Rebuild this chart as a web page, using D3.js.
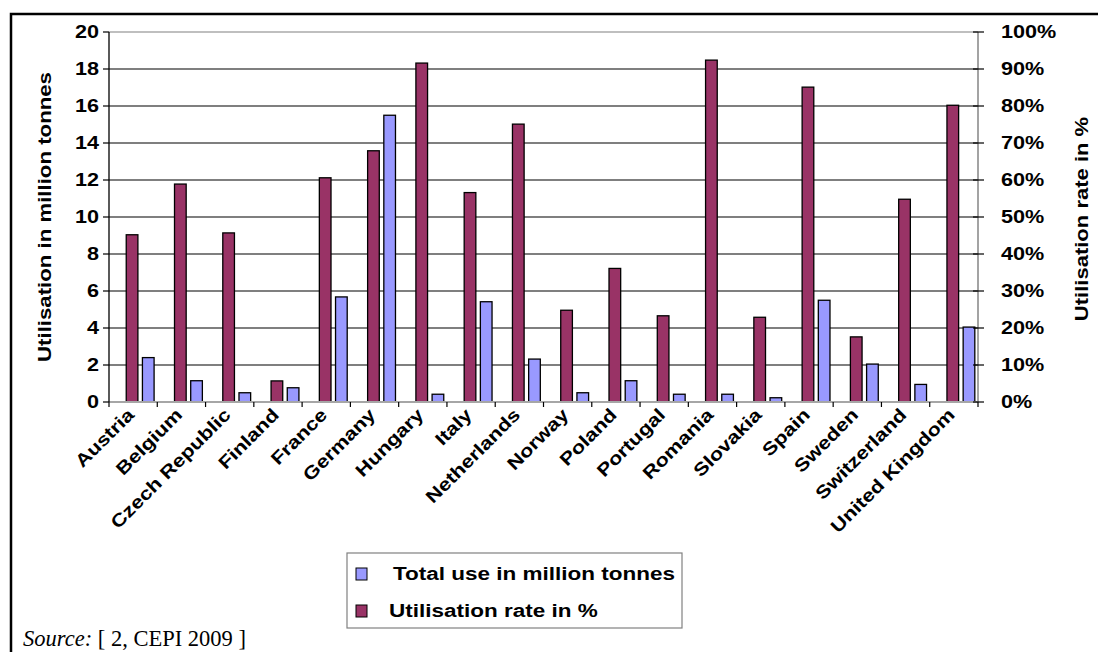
<!DOCTYPE html>
<html>
<head>
<meta charset="utf-8">
<script src="https://cdn.jsdelivr.net/npm/d3@7"></script>
<style>
  body { margin: 0; background: #fff; }
  text { font-family: "Liberation Sans", Arial, sans-serif; font-weight: bold; fill: #000; }
</style>
</head>
<body>
<div id="chart"></div>
<script>
// data
const countries = ["Austria", "Belgium", "Czech Republic", "Finland", "France", "Germany",
    "Hungary", "Italy", "Netherlands", "Norway", "Poland", "Portugal", "Romania",
    "Slovakia", "Spain", "Sweden", "Switzerland", "United Kingdom"];
const totalUse = [2.4, 1.15, 0.5, 0.77, 5.68, 15.5, 0.42, 5.42, 2.32, 0.5, 1.15, 0.42,
    0.42, 0.23, 5.5, 2.05, 0.95, 4.05];
const utilRate = [45.2, 58.9, 45.7, 5.7, 60.6, 67.9, 91.6, 56.6, 75.1, 24.8, 36.1, 23.3,
    92.4, 22.9, 85.1, 17.6, 54.8, 80.2];
const leftTicks = [0, 2, 4, 6, 8, 10, 12, 14, 16, 18, 20];
const rightTicks = [0, 10, 20, 30, 40, 50, 60, 70, 80, 90, 100];
const seriesNames = ["Total use in million tonnes", "Utilisation rate in %"];
const seriesColors = ["#9999ff", "#993366"];

const width = 1098, height = 652;
const plot = {left: 109, right: 978, top: 32, bottom: 402};

const svg = d3.select("#chart").append("svg")
    .attr("width", width)
    .attr("height", height);

const x = d3.scaleBand().domain(countries).range([plot.left, plot.right]).padding(0);
const bw = x.bandwidth();
// rate bar sits left of the total bar inside each category
const xSub = d3.scaleBand().domain(["rate", "total"])
    .range([bw * 0.357, bw * 0.934]).paddingInner(0.28);
const yL = d3.scaleLinear().domain([0, 20]).range([plot.bottom, plot.top]);
const yR = d3.scaleLinear().domain([0, 100]).range([plot.bottom, plot.top]);

// helper for the wide-looking labels
function label(g, px, py, str, opt) {
    opt = opt || {};
    const t = g.append("text")
        .attr("transform", "translate(" + px + "," + py + ")"
            + (opt.rotate ? " rotate(" + opt.rotate + ")" : "")
            + " scale(" + (opt.sx || 1) + ",1)")
        .attr("text-anchor", opt.anchor || "start")
        .style("font-size", (opt.size || 18) + "px")
        .text(str);
    if (opt.dy) t.attr("dy", opt.dy);
    return t;
}

// outer frame (only top & left visible)
svg.append("path")
    .attr("d", "M11,652 L11,14 L1098,14")
    .attr("fill", "none")
    .attr("stroke", "#000")
    .attr("stroke-width", 2.5);

// gridlines
svg.append("g").selectAll("line")
    .data(leftTicks.slice(1))
    .join("line")
    .attr("x1", plot.left).attr("x2", plot.right)
    .attr("y1", d => yL(d)).attr("y2", d => yL(d))
    .attr("stroke", d => d === 20 ? "#808080" : "#000")
    .attr("stroke-width", 1.2);

// plot border right
svg.append("line")
    .attr("x1", plot.right).attr("x2", plot.right)
    .attr("y1", plot.top).attr("y2", plot.bottom)
    .attr("stroke", "#666").attr("stroke-width", 1.2);

// bars
const cat = svg.append("g").selectAll("g")
    .data(countries)
    .join("g")
    .attr("transform", d => "translate(" + x(d) + ",0)");

cat.append("rect")
    .attr("x", xSub("rate"))
    .attr("width", xSub.bandwidth())
    .attr("y", (d, i) => yR(utilRate[i]))
    .attr("height", (d, i) => plot.bottom - yR(utilRate[i]))
    .attr("fill", seriesColors[1])
    .attr("stroke", "#000")
    .attr("stroke-width", 1.3);

cat.append("rect")
    .attr("x", xSub("total"))
    .attr("width", xSub.bandwidth())
    .attr("y", (d, i) => yL(totalUse[i]))
    .attr("height", (d, i) => plot.bottom - yL(totalUse[i]))
    .attr("fill", seriesColors[0])
    .attr("stroke", "#000")
    .attr("stroke-width", 1.3);

// category line along the bottom
svg.append("line")
    .attr("x1", plot.left).attr("x2", plot.right)
    .attr("y1", plot.bottom).attr("y2", plot.bottom)
    .attr("stroke", "#a6a6a6").attr("stroke-width", 2);

// left axis
const gL = svg.append("g");
gL.append("line")
    .attr("x1", plot.left).attr("x2", plot.left)
    .attr("y1", plot.top).attr("y2", plot.bottom)
    .attr("stroke", "#000").attr("stroke-width", 1.3);
gL.selectAll("line.tick")
    .data(leftTicks)
    .join("line")
    .attr("class", "tick")
    .attr("x1", plot.left - 6).attr("x2", plot.left)
    .attr("y1", d => yL(d)).attr("y2", d => yL(d))
    .attr("stroke", "#000").attr("stroke-width", 1.2);
leftTicks.forEach(v => label(gL, 99, yL(v), String(v), {anchor: "end", sx: 1.2, dy: "0.36em"}));

// right axis
const gR = svg.append("g");
gR.selectAll("line")
    .data(rightTicks)
    .join("line")
    .attr("x1", plot.right - 5).attr("x2", plot.right + 6)
    .attr("y1", d => yR(d)).attr("y2", d => yR(d))
    .attr("stroke", "#000").attr("stroke-width", 1.2);
rightTicks.forEach(v => label(gR, 1001, yR(v), v + "%", {sx: 1.2, dy: "0.36em"}));

// category axis ticks at band edges
const gX = svg.append("g");
gX.selectAll("line")
    .data(d3.range(countries.length + 1))
    .join("line")
    .attr("x1", i => plot.left + i * bw).attr("x2", i => plot.left + i * bw)
    .attr("y1", plot.bottom).attr("y2", plot.bottom + 5)
    .attr("stroke", "#000").attr("stroke-width", 1.2);
countries.forEach(c => label(gX, x(c) + bw / 2 + 2, plot.bottom + 14, c,
    {anchor: "end", rotate: -45, sx: 1.2}));

// axis titles
label(svg, 51, (plot.top + plot.bottom) / 2, "Utilisation in million tonnes",
    {anchor: "middle", rotate: -90, size: 19, sx: 1.17});
label(svg, 1088, (plot.top + plot.bottom) / 2 + 2, "Utilisation rate in %",
    {anchor: "middle", rotate: -90, size: 19, sx: 1.16});

// legend
const leg = svg.append("g");
leg.append("rect")
    .attr("x", 347).attr("y", 553).attr("width", 335).attr("height", 75)
    .attr("fill", "#fff").attr("stroke", "#808080").attr("stroke-width", 1.2);
seriesNames.forEach((name, i) => {
    leg.append("rect")
        .attr("x", 356).attr("y", 568 + i * 37)
        .attr("width", 11).attr("height", 12)
        .attr("fill", seriesColors[i])
        .attr("stroke", "#000").attr("stroke-width", 1);
    label(leg, i === 0 ? 393 : 389, 574 + i * 37, name, {size: 18, sx: 1.25, dy: "0.36em"});
});

// source note
const src = svg.append("text")
    .attr("x", 23).attr("y", 646)
    .style("font-family", "'Liberation Serif', 'Times New Roman', serif")
    .style("font-weight", "normal")
    .style("font-size", "22.5px");
src.append("tspan").style("font-style", "italic").text("Source:");
src.append("tspan").text(" [ 2, CEPI 2009 ]");
</script>
</body>
</html>
